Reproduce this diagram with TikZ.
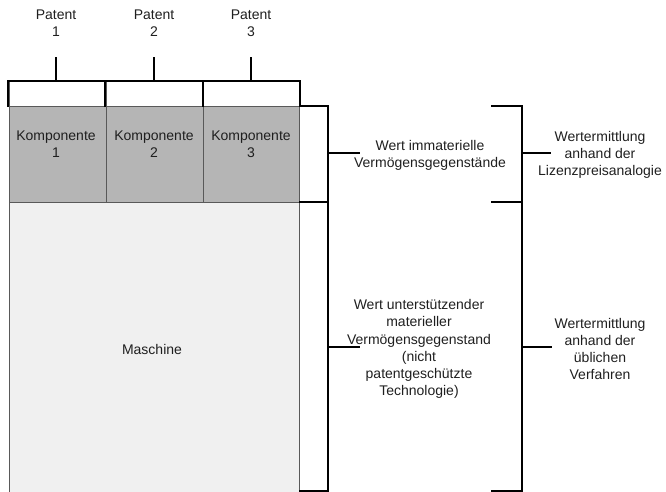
\documentclass[tikz,border=0pt]{standalone}
\usepackage{fontspec}
\setmainfont{Liberation Sans}
\begin{document}
\begin{tikzpicture}[x=1pt,y=-1pt,
  thick bracket/.style={line width=2.4pt,black,line cap=rect,line join=miter},
  thin box/.style={draw=black!65,line width=0.9pt},
  lbl/.style={font=\fontsize{14}{17.2}\selectfont,text=black!88,align=center,inner sep=0pt}]
\useasboundingbox (0,0) rectangle (666,492);
% component and machine boxes
\foreach \i/\a/\b in {1/9/106,2/106/203,3/203/299}{
  \draw[thin box,fill=white] (\a,81) rectangle (\b,106);
  \draw[thin box,fill=black!29] (\a,106) rectangle (\b,202);
}
\draw[thin box,fill=black!6] (9,202) rectangle (299,500);
\draw[thin box,fill=white] (299,106) rectangle (327,202);
\draw[thin box,fill=white] (299,202) rectangle (327,491);
% labels
\node[lbl] (k1) at (56,144) {Komponente\\1};
\node[lbl] (k2) at (154,144) {Komponente\\2};
\node[lbl] (k3) at (251,144) {Komponente\\3};
\node[lbl] (m) at (152,349) {Maschine};
\node[lbl] (p1) at (56,23) {Patent\\1};
\node[lbl] (p2) at (154,23) {Patent\\2};
\node[lbl] (p3) at (251,23) {Patent\\3};
\node[lbl] (wi) at (430,155.5) {Wert immaterielle\\Vermögensgegenstände};
\node[lbl] (wl) at (600,155) {Wertermittlung\\anhand der\\Lizenzpreisanalogie};
\node[lbl] (wu) at (419,349) {Wert unterstützender\\materieller\\Vermögensgegenstand\\(nicht\\patentgeschützte\\Technologie)};
\node[lbl] (wv) at (600,349) {Wertermittlung\\anhand der\\üblichen\\Verfahren};
% top bracket
\draw[thick bracket] (8,106) -- (8,81) -- (300,81) -- (300,106);
\draw[thick bracket] (105,81) -- (105,106);
\draw[thick bracket] (203,81) -- (203,106);
\foreach \x in {56,154,251}{ \draw[thick bracket] (\x,58) -- (\x,81); }
% small right brackets
\draw[thick bracket] (300,106) -- (328,106) -- (328,202) -- (300,202);
\draw[thick bracket] (328,202) -- (328,491) -- (300,491);
\draw[thick bracket] (328,153) -- (359,153);
\draw[thick bracket] (328,347) -- (359,347);
% big right bracket
\draw[thick bracket] (492,106) -- (522,106) -- (522,491) -- (492,491);
\draw[thick bracket] (492,202) -- (522,202);
\draw[thick bracket] (522,153) -- (550,153);
\draw[thick bracket] (522,347) -- (551,347);
\end{tikzpicture}
\end{document}
